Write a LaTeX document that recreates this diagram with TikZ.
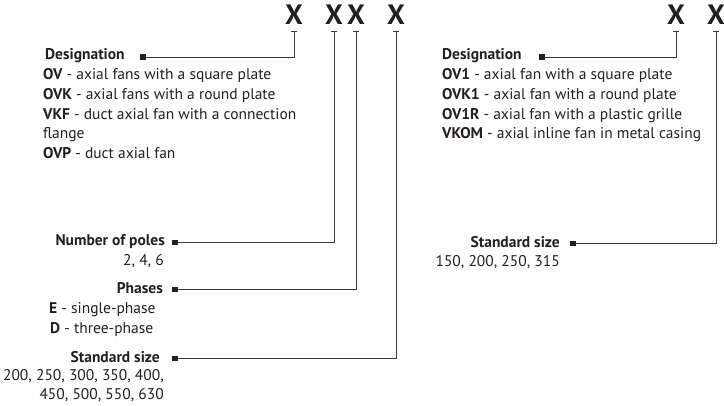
\documentclass[tikz,border=0pt]{standalone}
\usepackage{fontspec}
\setmainfont{PT Sans}
\definecolor{ink}{HTML}{231F20}
\definecolor{wire}{HTML}{3A3A3A}
\begin{document}
\begin{tikzpicture} [x=1pt, y=-1pt, every node/.style={text=ink, inner sep=0pt},
  code/.style={font=\fontsize{28}{30}\selectfont\bfseries, anchor=base},
  txt/.style={font=\fontsize{15.5}{18}\selectfont},
  sq/.style={fill=ink, minimum width=5.5pt, minimum height=5.5pt},
  tick/.style={draw=wire, line width=0.8pt, minimum width=6pt, minimum height=0pt},
  link/.style={draw=wire, line width=0.8pt}]
\useasboundingbox (0,0) rectangle (724,406);
% code letters
\node [code] (x1) at (294,25) {X};
\node [code] (x2) at (334,25) {X};
\node [code] (x3) at (356,25) {X};
\node [code] (x4) at (396,25) {X};
\node [code] (x5) at (676,25) {X};
\node [code] (x6) at (716,25) {X};
\foreach \i in {1,...,6}
  \node [tick] (t\i) at ([yshift=-6.5pt]x\i.base) {};
% left designation
\node [txt, anchor=base west] (d1) at (45,60) {\textbf{Designation}};
\node [txt, anchor=base west] (d2) at (43,79.7) {\textbf{OV} - axial fans with a square plate};
\node [txt, anchor=base west] (d3) at (43,99.4) {\textbf{OVK} - axial fans with a round plate};
\node [txt, anchor=base west] (d4) at (43,119.1) {\textbf{VKF} - duct axial fan with a connection};
\node [txt, anchor=base west] (d5) at (43,138.8) {flange};
\node [txt, anchor=base west] (d6) at (43,158.5) {\textbf{OVP} - duct axial fan};
\node [sq] (s1) at (143,57) {};
% poles, phases, size
\node [txt, anchor=base east] (p1) at (165,246) {\textbf{Number of poles}};
\node [txt, anchor=base east] (p2) at (164,265.5) {2, 4, 6};
\node [sq] (s2) at (175,242.5) {};
\node [txt, anchor=base east] (f1) at (163,293.5) {\textbf{Phases}};
\node [txt, anchor=base west] (f2) at (49,313.8) {\textbf{E} - single-phase};
\node [txt, anchor=base west] (f3) at (50,333.5) {\textbf{D} - three-phase};
\node [sq] (s3) at (175,289.5) {};
\node [txt, anchor=base east] (z1) at (160,362.5) {\textbf{Standard size}};
\node [txt, anchor=base east] (z2) at (164,381) {200, 250, 300, 350, 400,};
\node [txt, anchor=base east] (z3) at (164,400) {450, 500, 550, 630};
\node [sq] (s4) at (175,358.5) {};
% right designation
\node [txt, anchor=base west] (r1) at (442,60) {\textbf{Designation}};
\node [txt, anchor=base west] (r2) at (442,79.7) {\textbf{OV1} - axial fan with a square plate};
\node [txt, anchor=base west] (r3) at (442,99.4) {\textbf{OVK1} - axial fan with a round plate};
\node [txt, anchor=base west] (r4) at (442,119.1) {\textbf{OV1R} - axial fan with a plastic grille};
\node [txt, anchor=base west] (r5) at (442,138.8) {\textbf{VKOM} - axial inline fan in metal casing};
\node [sq] (s5) at (542,57) {};
\node [txt, anchor=base east] (q1) at (560,247.5) {\textbf{Standard size}};
\node [txt, anchor=base east] (q2) at (560,266.5) {150, 200, 250, 315};
\node [sq] (s6) at (573,243.5) {};
\draw [link] (s1) -| (t1.center)
(s2) -| (t2.center)
(s3) -| (t3.center)
(s4) -| (t4.center)
(s5) -| (t5.center)
(s6) -| (t6.center);
\end{tikzpicture}
\end{document}
